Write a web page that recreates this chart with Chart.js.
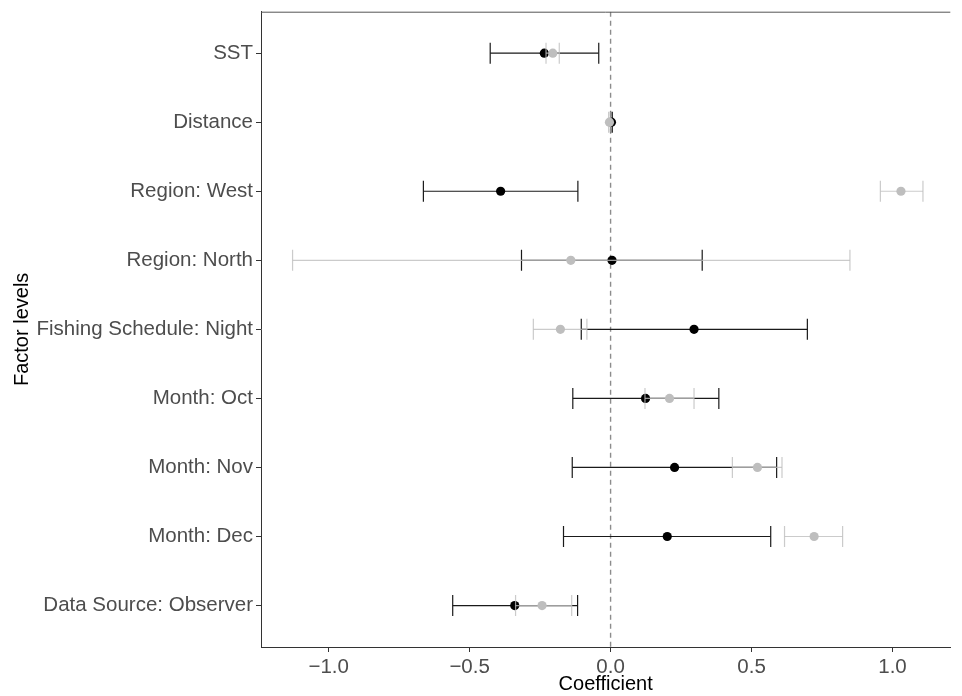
<!DOCTYPE html>
<html>
<head>
<meta charset="utf-8">
<script src="https://cdn.jsdelivr.net/npm/chart.js@4"></script>
<style>
  html, body { margin: 0; padding: 0; background: #fff; }
  #wrap { width: 962px; height: 696px; }
</style>
</head>
<body>
<div id="wrap"><canvas id="coef-chart"></canvas></div>
<script>
// ===== model coefficients, two fits (black / grey) =====
const categories = ['SST', 'Distance', 'Region: West', 'Region: North', 'Fishing Schedule: Night',
                    'Month: Oct', 'Month: Nov', 'Month: Dec', 'Data Source: Observer'];

const blackEst = [-0.235, 0.003, -0.390, 0.005, 0.296, 0.124, 0.227, 0.201, -0.340];
const blackLo  = [-0.427, 0.000, -0.664, -0.316, -0.104, -0.134, -0.136, -0.167, -0.560];
const blackHi  = [-0.042, 0.006, -0.116, 0.325, 0.698, 0.384, 0.589, 0.568, -0.117];

const greyEst = [-0.205, -0.004, 1.030, -0.141, -0.178, 0.209, 0.521, 0.722, -0.243];
const greyLo  = [-0.229, -0.007, 0.957, -1.128, -0.274, 0.122, 0.432, 0.617, -0.337];
const greyHi  = [-0.182, -0.001, 1.108, 0.849, -0.084, 0.296, 0.608, 0.823, -0.138];

const xTicks = [-1, -0.5, 0, 0.5, 1];

const FONT = "'Liberation Sans', Arial, sans-serif";

// helpers to turn the arrays into point lists
function pts(vals) {
    return vals.map((v, i) => ({ x: v, y: i }));
}
function segments(lo, hi) {
    const out = [];
    lo.forEach((v, i) => {
        out.push({ x: v, y: i }, { x: hi[i], y: i }, { x: hi[i], y: null });
    });
    return out;
}
function caps(lo, hi) {
    return pts(lo).concat(pts(hi));
}

function errorSet(lo, hi, est, lineCol, pointCol, lw) {
    // first one in the list ends up on top
    return [
        { data: pts(est), pointRadius: 4.6, pointBackgroundColor: pointCol, pointBorderWidth: 0 },
        { data: caps(lo, hi), pointStyle: 'line', rotation: 90, pointRadius: 10.5,
          pointBorderColor: lineCol, pointBorderWidth: lw },
        { data: segments(lo, hi), showLine: true, borderColor: lineCol, borderWidth: lw, pointRadius: 0 }
    ];
}

// panel frame (top edge), axes draw left/bottom
const framePlugin = {
    id: 'frame',
    afterDraw(chart) {
        const { ctx, chartArea: a } = chart;
        ctx.save();
        ctx.strokeStyle = '#555';
        ctx.lineWidth = 1;
        ctx.beginPath();
        ctx.moveTo(a.left, a.top + 0.5);
        ctx.lineTo(a.right, a.top + 0.5);
        ctx.stroke();
        ctx.restore();
    }
};

const datasets = [
    ...errorSet(greyLo, greyHi, greyEst, 'rgba(190,190,190,0.8)', '#bebebe', 1.2),
    ...errorSet(blackLo, blackHi, blackEst, '#1a1a1a', '#000000', 1.2),
    {
        // reference line at zero
        data: [{ x: 0, y: -0.6 }, { x: 0, y: categories.length - 0.4 }],
        showLine: true, borderColor: '#8c8c8c', borderWidth: 1.4, borderDash: [5, 4], pointRadius: 0
    }
];

new Chart(document.getElementById('coef-chart'), {
    type: 'scatter',
    data: { datasets },
    options: {
        responsive: true,
        maintainAspectRatio: false,
        animation: false,
        layout: { padding: { top: 7, right: 0, left: 0, bottom: 0 } },
        plugins: {
            legend: { display: false },
            tooltip: { enabled: false }
        },
        scales: {
            x: {
                type: 'linear',
                min: -1.24,
                max: 1.205,
                afterBuildTicks: s => { s.ticks = xTicks.map(v => ({ value: v })); },
                afterFit: s => { s.height = 49; s.paddingLeft = 0; s.paddingRight = 0; },
                ticks: {
                    color: '#4d4d4d',
                    font: { family: FONT, size: 20.5 },
                    padding: 3,
                    maxRotation: 0,
                    callback: v => (v < 0 ? '\u2212' : '') + Math.abs(v).toFixed(1)
                },
                grid: { drawOnChartArea: false, tickLength: 5, tickColor: '#333' },
                border: { display: true, color: '#333', width: 1 },
                title: {
                    display: true, text: 'Coefficient', color: '#000',
                    font: { family: FONT, size: 20 }, padding: { top: 0, bottom: 0 }
                }
            },
            y: {
                type: 'linear',
                reverse: true,
                min: -0.6,
                max: categories.length - 0.4,
                afterBuildTicks: s => { s.ticks = categories.map((c, i) => ({ value: i })); },
                afterFit: s => { s.width = 261; s.paddingTop = 0; s.paddingBottom = 0; },
                ticks: {
                    color: '#4d4d4d',
                    font: { family: FONT, size: 20.5 },
                    padding: 3,
                    callback: v => categories[v]
                },
                grid: { drawOnChartArea: false, tickLength: 5, tickColor: '#333' },
                border: { display: true, color: '#333', width: 1 },
                title: {
                    display: true, text: 'Factor levels', color: '#000',
                    font: { family: FONT, size: 20 }, padding: { top: 10, bottom: 0 }
                }
            }
        }
    },
    plugins: [framePlugin]
});
</script>
</body>
</html>
